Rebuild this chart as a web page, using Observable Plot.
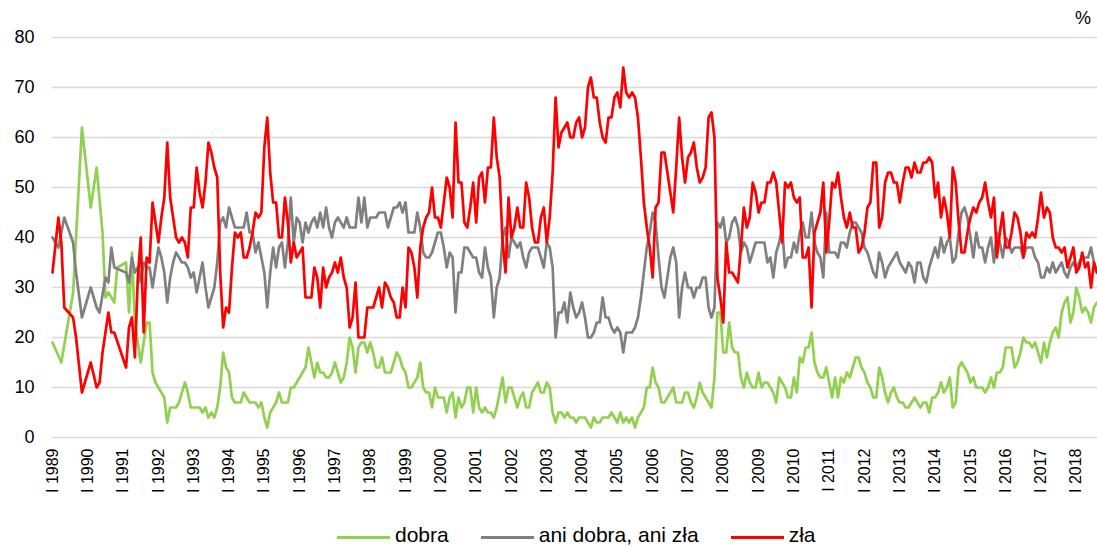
<!DOCTYPE html>
<html><head><meta charset="utf-8">
<script src="https://cdn.jsdelivr.net/npm/d3@7"></script>
<script src="https://cdn.jsdelivr.net/npm/@observablehq/plot@0.6"></script>
<style>
body{margin:0;background:#fff;font-family:"Liberation Sans",Arial,sans-serif;}
#wrap{position:relative;width:1097px;height:547px;overflow:hidden;}
#pct{position:absolute;left:1075px;top:8px;font-size:18px;color:#000;}
#legend{position:absolute;top:524px;left:337px;height:22px;line-height:22px;display:flex;align-items:center;font-size:21px;color:#000;white-space:nowrap;}
.item{display:flex;align-items:center;margin-right:32px;height:22px;}
.sw{width:53px;height:3px;margin-right:5px;position:relative;top:2px;}
</style></head>
<body><div id="wrap"><div id="chart"></div><div id="pct">%</div><div id="legend"></div></div>
<script>
// Month index 0 = January 1989 (one value per month; null = no survey that month)
const seriesNames = ["dobra", "ani dobra, ani zła", "zła"];
const seriesColors = ["#92D050", "#808080", "#FF0000"];
const tickYears = [1989,1990,1991,1992,1993,1994,1995,1996,1997,1998,1999,2000,2001,2002,2003,2004,2005,2006,2007,2008,2009,2010,2011,2012,2013,2014,2015,2016,2017,2018];
const yTicks = [0,10,20,30,40,50,60,70,80];

const dobra = [
 19,null,null,15,null,null,null,29,40,null,62,null, // 1989
 null,46,null,54,null,41,28,29,null,27,34,null,     // 1990
 null,35,25,37,23,null,15,null,23,23,13,11,         // 1991
 10,9,8,3,6,6,6,7,9,11,9,6,       // 1992
 6,6,6,5,6,4,5,4,6,10,17,14,      // 1993
 13,8,7,7,7,9,8,7,7,7,6,7,        // 1994
 4,2,5,6,7,9,7,7,7,10,10,11,      // 1995
 12,13,14,18,15,12,15,13,13,12,12,13, // 1996
 15,13,11,12,15,20,18,13,18,19,19,17, // 1997
 19,17,14,14,16,13,13,13,15,17,16,14, // 1998
 13,10,10,11,12,15,10,9,9,6,10,8,     // 1999
 8,8,5,8,9,4,8,6,7,10,10,5,           // 2000
 10,6,5,6,5,5,4,6,9,12,7,10,          // 2001
 10,8,6,8,9,6,6,9,10,11,9,9,          // 2002
 11,10,5,3,5,5,4,5,4,4,3,4,           // 2003
 4,4,3,2,4,3,3,4,4,4,5,4,             // 2004
 3,5,3,4,3,4,2,4,5,6,10,10,           // 2005
 14,11,10,7,7,8,9,10,7,7,7,9,         // 2006
 9,7,6,8,11,9,8,7,6,12,25,25,         // 2007
 17,17,23,18,17,17,12,10,13,11,10,10, // 2008
 13,10,11,11,10,9,7,12,11,10,8,8,     // 2009
 12,9,16,15,18,18,21,15,13,12,12,14,  // 2010
 11,8,12,8,12,11,13,12,14,16,16,14,   // 2011
 13,11,10,8,8,14,12,9,7,9,10,8,       // 2012
 7,7,6,6,7,8,7,6,7,7,5,8,             // 2013
 8,9,11,9,10,12,6,7,14,15,14,13,      // 2014
 11,12,10,10,10,9,10,12,10,13,13,14,  // 2015
 18,18,18,14,15,17,20,19,19,18,19,17, // 2016
 15,19,16,19,21,22,20,25,27,28,23,25, // 2017
 30,28,25,26,25,23,26,27              // 2018
];
const aniDobraAniZla = [
 40,null,38,null,44,null,null,39,33,null,24,null,   // 1989
 null,30,null,26,25,null,32,31,38,34,null,null,     // 1990
 null,33,31,36,33,34,31,35,34,34,30,34,             // 1991
 38,36,33,27,32,35,37,36,35,35,34,32, // 1992
 33,29,32,35,30,26,28,30,35,43,44,42, // 1993
 46,44,42,42,42,42,45,41,41,37,39,36, // 1994
 33,26,33,38,34,38,39,34,39,48,39,44, // 1995
 43,39,43,41,43,44,42,45,42,46,42,40, // 1996
 43,44,43,42,44,42,42,42,48,43,48,42, // 1997
 44,44,44,45,45,45,42,44,46,46,47,45, // 1998
 47,41,41,41,45,42,37,36,36,37,39,41, // 1999
 41,38,34,37,36,25,33,33,38,38,37,36, // 2000
 36,33,32,38,34,32,24,30,32,40,42,36, // 2001
 40,39,38,39,36,34,37,38,38,38,36,34, // 2002
 39,38,34,20,25,25,27,23,29,26,24,25, // 2003
 27,24,20,20,21,23,23,28,24,24,22,21, // 2004
 22,21,17,21,21,21,22,24,28,33,38,41, // 2005
 45,43,36,30,28,32,36,38,35,24,30,33, // 2006
 30,30,28,30,30,32,32,26,24,26,43,42, // 2007
 44,39,40,43,44,42,37,39,38,35,37,39, // 2008
 39,39,39,35,36,32,37,39,42,34,36,36, // 2009
 39,37,41,43,40,40,45,39,37,36,32,45, // 2010
 37,37,37,36,39,39,38,41,43,43,42,41, // 2011
 38,37,35,33,32,37,35,32,34,35,36,37, // 2012
 35,34,33,35,34,31,35,35,32,31,34,36, // 2013
 38,36,40,37,39,40,35,36,41,45,46,44, // 2014
 40,36,41,38,38,35,38,40,35,41,39,36, // 2015
 40,39,37,38,38,38,36,38,38,38,36,35, // 2016
 32,32,34,33,35,33,34,35,33,32,34,35, // 2017
 34,35,36,36,36,38,35,33              // 2018
];
const zla = [
 33,null,44,39,26,null,null,24,20,null,9,null,      // 1989
 null,15,null,10,11,17,null,25,21,21,null,null,     // 1990
 null,14,22,24,16,32,40,21,36,35,47,43,             // 1991
 39,44,48,59,48,44,40,39,40,39,36,46, // 1992
 46,54,49,46,51,59,57,54,52,33,22,26, // 1993
 25,34,41,40,41,36,36,38,41,45,44,45, // 1994
 58,64,53,47,47,40,40,48,43,35,39,36, // 1995
 37,38,28,28,28,34,32,26,34,30,32,33, // 1996
 35,33,36,32,30,22,24,31,20,20,20,26, // 1997
 26,26,28,30,26,31,30,28,27,24,24,30, // 1998
 26,38,37,34,28,38,42,44,45,50,44,44, // 1999
 42,47,52,50,44,63,51,51,43,42,46,51, // 2000
 43,52,53,47,54,54,64,56,52,39,33,48, // 2001
 40,42,46,42,42,51,48,42,39,39,44,46, // 2002
 39,44,53,68,58,61,62,63,60,60,63,64, // 2003
 60,62,70,72,68,68,63,60,59,64,64,68, // 2004
 69,66,74,69,68,69,68,64,56,47,42,38, // 2005
 32,46,47,57,57,53,49,45,54,64,56,51, // 2006
 56,57,59,54,51,52,54,64,65,60,32,28, // 2007
 23,39,33,33,32,31,38,46,42,44,51,49, // 2008
 45,47,47,51,51,53,51,45,39,51,50,51, // 2009
 48,47,48,36,36,38,26,41,43,45,51,37, // 2010
 43,51,50,53,48,44,42,45,42,42,37,38, // 2011
 41,46,47,55,55,42,44,51,53,53,51,51, // 2012
 47,51,54,54,52,55,53,53,55,55,56,55, // 2013
 48,51,44,48,45,40,54,51,43,37,37,41, // 2014
 44,46,45,47,48,51,47,44,48,36,41,45, // 2015
 38,38,41,45,44,41,36,41,40,41,40,44, // 2016
 49,44,46,45,40,38,38,37,38,34,36,38, // 2017
 33,34,37,34,35,30,35,33              // 2018
];

const allSeries = [dobra, aniDobraAniZla, zla];
const rows = allSeries.map((vals, k) =>
  vals.map((v, i) => ({m: i, v, s: seriesNames[k]})).filter(d => d.v != null));
const lastMonth = Math.max(...allSeries.map(a => a.length - 1));
const xTicks = tickYears.map((y, i) => i * 12);

const chart = Plot.plot({
  width: 1097,
  height: 520,
  marginLeft: 52,
  marginRight: 0,
  marginTop: 37,
  marginBottom: 83,
  style: {fontFamily: '"Liberation Sans", Arial, sans-serif', color: "#000", background: "#fff"},
  x: {domain: [0, lastMonth + 0.2]},
  y: {domain: [0, 80]},
  marks: [
    Plot.ruleY(yTicks, {stroke: "#d9d9d9", strokeWidth: 1.5}),
    Plot.axisY(yTicks, {tickSize: 0, tickPadding: 18, fontSize: 18, label: null, fill: "#000"}),
    Plot.axisX(xTicks, {tickSize: 0, tickPadding: 11, tickRotate: -90, fontSize: 16, label: null, fill: "#000",
      tickFormat: d => "I " + tickYears[d / 12]}),
    ...rows.map((r, k) => Plot.line(r, {x: "m", y: "v", stroke: seriesColors[k], strokeWidth: 2.7, curve: "linear"}))
  ]
});
document.getElementById("chart").appendChild(chart);

const legend = document.getElementById("legend");
seriesNames.forEach((n, k) => {
  const it = document.createElement("div"); it.className = "item";
  const sw = document.createElement("div"); sw.className = "sw"; sw.style.background = seriesColors[k];
  const tx = document.createElement("span"); tx.textContent = n;
  it.appendChild(sw); it.appendChild(tx); legend.appendChild(it);
});
</script></body></html>
